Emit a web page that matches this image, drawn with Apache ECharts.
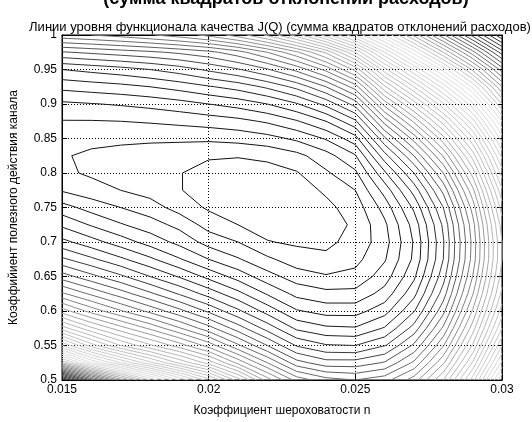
<!DOCTYPE html>
<html><head><meta charset="utf-8">
<script src="https://cdn.jsdelivr.net/npm/echarts@6/dist/echarts.min.js"></script>
<style>html,body{margin:0;padding:0;background:#fff}#c{width:532px;height:422px}</style>
</head><body><div id="c"></div>
<script>
// Roughness coefficient grid (x) and channel efficiency grid (y, top to bottom)
const nGrid = [0.015,0.016,0.017,0.018,0.019,0.020,0.021,0.022,0.023,0.024,0.025,0.026,0.027,0.028,0.029,0.030];
const etaGrid = [1.000,0.975,0.950,0.925,0.900,0.875,0.850,0.825,0.800,0.775,0.750,0.725,0.700,0.675,0.650,0.625,0.600,0.575,0.550,0.525,0.500];
// level index of J(Q) read at each grid node (row = eta, column = n)
const row100 = [13.7,14.0,14.4,14.9,15.5,16.3,17.5,19.2,21.5,24.5,28,32,36.3,40.8,45.4,50];
const row975 = [9.9,10.2,10.5,10.8,11.2,11.7,12.6,14.0,15.8,18.2,22,27,31.5,36,40.6,45.5];
const row950 = [7.0,7.3,7.6,8.0,8.5,9.2,9.9,10.9,12.3,14.3,17.3,22.6,27,31.4,36.2,41.5];
const row925 = [5.3,5.5,5.7,6.0,6.4,6.9,7.4,8.2,9.3,11.0,13.5,18.8,23,27.4,32.2,38];
const row900 = [3.8,3.95,4.1,4.3,4.6,5.0,5.4,6.0,6.9,8.3,10.4,15.4,19.4,23.8,28.7,35];
const row875 = [2.95,2.95,3.0,3.1,3.25,3.45,3.7,4.15,4.9,6.0,7.8,12.4,16.2,20.5,25.6,32];
const row850 = [2.45,2.3,2.25,2.2,2.2,2.2,2.35,2.65,3.2,4.1,5.6,9.8,13.4,17.6,22.8,29.5];
const row825 = [2.1,1.8,1.6,1.45,1.3,1.08,1.05,1.2,1.7,2.6,3.9,7.6,11.0,15.1,20.4,27.3];
const row800 = [2.2,1.85,1.55,1.25,1.03,0.75,0.62,0.65,0.92,1.85,2.8,5.8,9.0,13.0,18.4,25.5];
const row775 = [2.9,2.4,2.0,1.6,1.05,0.6,0.45,0.4,0.55,1.15,2.0,4.4,7.4,11.3,16.7,23.8];
const row750 = [4.4,3.6,3.0,2.45,1.6,0.85,0.5,0.35,0.4,0.75,1.45,3.4,6.2,10.0,15.4,22.5];
const row725 = [5.8,4.9,4.1,3.45,2.7,1.6,1.0,0.6,0.45,0.6,1.15,2.8,5.4,9.2,14.6,21.5];
const row700 = [7.3,6.4,5.5,4.6,3.7,2.6,2.0,1.05,0.85,0.8,1.3,2.6,5.1,8.9,14.3,21];
const row675 = [9.2,8.2,7.2,6.2,5.1,4.0,3.1,2.2,1.45,1.2,1.7,2.9,5.2,9.0,14.4,21];
const row650 = [11.5,10.3,9.2,8.0,6.9,5.7,4.6,3.4,2.5,2.1,2.3,3.5,5.8,9.6,15.0,21.5];
const row625 = [14.2,12.8,11.5,10.2,8.9,7.6,6.3,4.9,3.7,3.3,3.3,4.4,6.7,10.5,15.9,22.3];
const row600 = [17.5,15.6,14.1,12.7,11.3,9.8,8.2,6.6,5.1,4.6,4.6,5.6,7.9,11.7,17.1,23.5];
const row575 = [21.5,19.2,17.4,15.8,14.1,12.4,10.5,8.6,6.8,6.2,6.1,7.1,9.4,13.2,18.5,25];
const row550 = [27,23.5,21,19.2,17.5,15.6,13.2,11.0,8.9,8.1,8,8.9,11.2,14.9,20.1,27];
const row525 = [35,30,27,24.3,21.8,19.6,16.7,14.0,11.4,10.4,10.4,11.1,13.2,16.8,22.1,29.3];
const row500 = [50,43,37.5,33,29,25.5,21.5,17.5,14.6,13.4,13,13.6,15.5,19,24.5,32];
const levelRows = [row100,row975,row950,row925,row900,row875,row850,row825,row800,row775,row750,row725,row700,row675,row650,row625,row600,row575,row550,row525,row500];
const contourLevels = [1,2,3,4,5,6,7,8,9,10,11,12,13,14,15,16,17,18,19,20,21,22,23,24,25,26,27,28,29,30,31,32,33,34,35,36,37,38,39,40,41,42,43,44,45,46,47,48,49];
const xTickLabels = ['0.015','0.02','0.025','0.03'];
const yTickLabels = ['0.5','0.55','0.6','0.65','0.7','0.75','0.8','0.85','0.9','0.95','1'];

const titleText = 'Линии уровня функционала качества J(Q) (сумма квадратов отклонений расходов)';
const cutText = '(сумма квадратов отклонений расходов)';
const xName = 'Коэффициент шероховатости n';
const yName = 'Коэффийиент полезного действия канала';

// ---- marching squares on the read grid ----
function val(c, r) { return levelRows[r][c]; }
function edgePoint(key, L) {
  const p = key.split(':'); const t = p[0], c = +p[1], r = +p[2];
  let c2 = c, r2 = r;
  if (t === 'h') c2 = c + 1; else r2 = r + 1;
  const v1 = val(c, r), v2 = val(c2, r2);
  const f = (L - v1) / (v2 - v1);
  return [nGrid[c] + f * (nGrid[c2] - nGrid[c]), etaGrid[r] + f * (etaGrid[r2] - etaGrid[r])];
}
function segmentsFor(L) {
  const segs = [];
  const nx = nGrid.length, ny = etaGrid.length;
  for (let r = 0; r < ny - 1; r++) for (let c = 0; c < nx - 1; c++) {
    const v = [val(c, r), val(c + 1, r), val(c + 1, r + 1), val(c, r + 1)];
    const s = v.map(x => x >= L);
    const e = ['h:' + c + ':' + r, 'v:' + (c + 1) + ':' + r, 'h:' + c + ':' + (r + 1), 'v:' + c + ':' + r];
    const cross = [s[0] !== s[1], s[1] !== s[2], s[2] !== s[3], s[0] !== s[3]];
    const idx = [0, 1, 2, 3].filter(i => cross[i]);
    if (idx.length === 2) segs.push([e[idx[0]], e[idx[1]]]);
    else if (idx.length === 4) {
      const ctr = (v[0] + v[1] + v[2] + v[3]) / 4 >= L;
      if (ctr === s[0]) { segs.push([e[0], e[1]]); segs.push([e[2], e[3]]); }
      else { segs.push([e[0], e[3]]); segs.push([e[1], e[2]]); }
    }
  }
  return segs;
}
function chain(segs) {
  const adj = new Map();
  segs.forEach((s, i) => s.forEach(k => { if (!adj.has(k)) adj.set(k, []); adj.get(k).push(i); }));
  const used = segs.map(() => false);
  const out = [];
  function walk(k0, s0) {
    const path = [k0]; let k = k0, si = s0;
    while (si !== undefined && !used[si]) {
      used[si] = true;
      const s = segs[si]; const nk = s[0] === k ? s[1] : s[0];
      path.push(nk); k = nk;
      si = adj.get(k).find(j => !used[j]);
    }
    return path;
  }
  for (const [k, list] of adj) if (list.length === 1 && !used[list[0]]) out.push(walk(k, list[0]));
  for (let i = 0; i < segs.length; i++) if (!used[i]) out.push(walk(segs[i][0], i));
  return out;
}
// grayscale rendering of the jet colour map
function jetGray(f) {
  const cl = x => Math.max(0, Math.min(1, x));
  const r = cl(1.5 - Math.abs(4 * f - 3)), g = cl(1.5 - Math.abs(4 * f - 2)), b = cl(1.5 - Math.abs(4 * f - 1));
  const y = Math.round(255 * (0.299 * r + 0.587 * g + 0.114 * b));
  return 'rgb(' + y + ',' + y + ',' + y + ')';
}
let zmin = Infinity, zmax = -Infinity;
levelRows.forEach(row => row.forEach(v => { zmin = Math.min(zmin, v); zmax = Math.max(zmax, v); }));

const series = [];
contourLevels.forEach(L => {
  const color = jetGray((L - zmin) / (zmax - zmin));
  chain(segmentsFor(L)).forEach(path => {
    series.push({
      type: 'line', data: path.map(k => edgePoint(k, L)), showSymbol: false, symbol: 'none',
      lineStyle: { color: color, width: 1 }, silent: true, animation: false, z: 3
    });
  });
});

function fmtX(v) { const i = Math.round((v - 0.015) / 0.005); return xTickLabels[i] !== undefined ? xTickLabels[i] : ''; }
function fmtY(v) { const i = Math.round((v - 0.5) / 0.05); return yTickLabels[i] !== undefined ? yTickLabels[i] : ''; }
const font = 'Liberation Sans, Arial, sans-serif';
const gridLine = { show: true, lineStyle: { color: '#000', type: [1, 2], width: 1 } };
const chart = echarts.init(document.getElementById('c'), null, { renderer: 'canvas' });
chart.setOption({
  animation: false,
  backgroundColor: '#fff',
  graphic: [
    { type: 'text', x: 286, y: -10, z: 10,
      style: { text: cutText, font: 'bold 18px ' + font, fill: '#000', textAlign: 'center', textVerticalAlign: 'top' } },
    { type: 'text', x: 280, y: 21, z: 10,
      style: { text: titleText, font: '13px ' + font, fill: '#000', textAlign: 'center', textVerticalAlign: 'top' } }
  ],
  grid: { left: 58, right: 30, top: 35, bottom: 38, show: true, borderColor: '#000', borderWidth: 1, backgroundColor: 'transparent' },
  xAxis: [{ type: 'value', min: 0.015, max: 0.03, interval: 0.005, position: 'bottom',
      name: xName, nameLocation: 'middle', nameGap: 25,
      nameTextStyle: { fontFamily: font, fontSize: 12, color: '#000' },
      axisLine: { show: true, lineStyle: { color: '#000' } },
      axisTick: { show: true, inside: true, length: 5, lineStyle: { color: '#000' } },
      axisLabel: { formatter: fmtX, fontFamily: font, fontSize: 12, color: '#000', margin: 4 },
      splitLine: gridLine },
    { type: 'value', min: 0.015, max: 0.03, interval: 0.005, position: 'top',
      axisLine: { show: true, lineStyle: { color: '#000' } },
      axisTick: { show: true, inside: true, length: 5, lineStyle: { color: '#000' } },
      axisLabel: { show: false }, splitLine: { show: false } }],
  yAxis: [{ type: 'value', min: 0.5, max: 1, interval: 0.05, position: 'left',
      name: yName, nameLocation: 'middle', nameGap: 42,
      nameTextStyle: { fontFamily: font, fontSize: 12, color: '#000' },
      axisLine: { show: true, lineStyle: { color: '#000' } },
      axisTick: { show: true, inside: true, length: 5, lineStyle: { color: '#000' } },
      axisLabel: { formatter: fmtY, fontFamily: font, fontSize: 12, color: '#000', margin: 5 },
      splitLine: gridLine },
    { type: 'value', min: 0.5, max: 1, interval: 0.05, position: 'right',
      axisLine: { show: true, lineStyle: { color: '#000' } },
      axisTick: { show: true, inside: true, length: 5, lineStyle: { color: '#000' } },
      axisLabel: { show: false }, splitLine: { show: false } }],
  series: series
});
</script></body></html>
